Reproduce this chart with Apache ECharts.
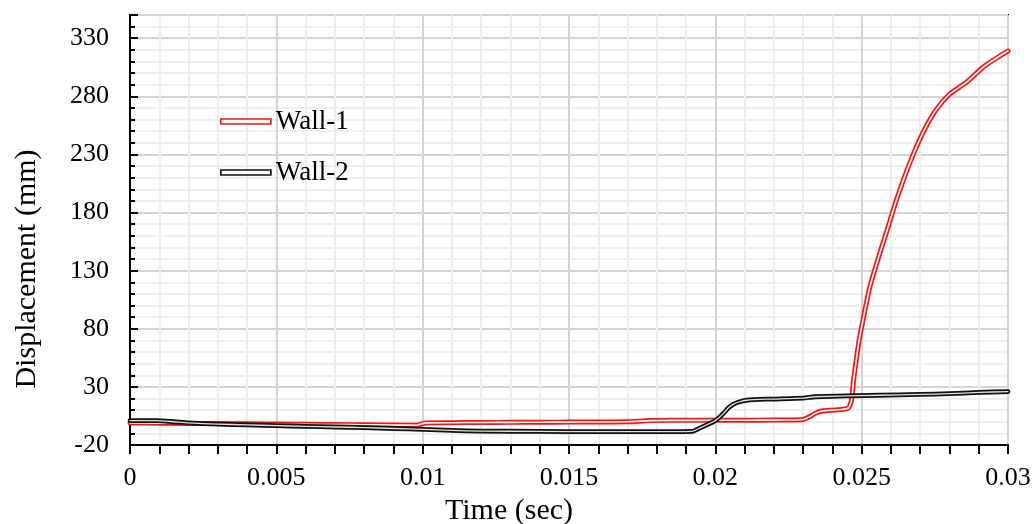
<!DOCTYPE html>
<html>
<head>
<meta charset="utf-8">
<script src="https://cdn.jsdelivr.net/npm/echarts@6/dist/echarts.min.js"></script>
<style>
html,body{margin:0;padding:0;background:#fff;}
#chart{width:1035px;height:524px;}
</style>
</head>
<body>
<div id="chart"></div>
<script>
// Wall-1 (red) : time in seconds, displacement in mm
var wall1Time = [0, 0.001, 0.002, 0.003, 0.004, 0.005, 0.006, 0.007, 0.008, 0.009, 0.0098, 0.0101, 0.011, 0.012, 0.013, 0.014, 0.015, 0.016, 0.017, 0.0178, 0.0185, 0.0195, 0.0205, 0.0215, 0.0225, 0.0230, 0.0232, 0.0234, 0.0236, 0.0240, 0.0243, 0.02455, 0.02465, 0.02472, 0.0248, 0.0249, 0.02505, 0.02528, 0.02562, 0.02591, 0.02619, 0.02665, 0.0271, 0.02756, 0.02801, 0.02858, 0.02915, 0.02961, 0.0300];
var wall1Disp = [-1, -1.2, -1.4, -1.6, -1.8, -2, -2.2, -2.4, -2.6, -2.8, -3, -1, -0.8, -0.6, -0.5, -0.4, -0.3, -0.2, 0, 1, 1.2, 1.2, 1.3, 1.4, 1.5, 2, 4, 7, 9, 10, 10.5, 12, 18, 35, 50, 68, 88, 116, 145, 168, 191, 223, 249, 269, 282, 292, 305, 313, 319];
// Wall-2 (black)
var wall2Time = [0, 0.0009, 0.0015, 0.002, 0.003, 0.004, 0.005, 0.006, 0.007, 0.008, 0.009, 0.010, 0.011, 0.012, 0.014, 0.016, 0.018, 0.0192, 0.0195, 0.01993, 0.0201, 0.02027, 0.02045, 0.02061, 0.0208, 0.02107, 0.02175, 0.0230, 0.0234, 0.0256, 0.027, 0.028, 0.029, 0.030];
var wall2Disp = [1, 1, 0, -1, -2, -2.7, -3.3, -4, -4.5, -5, -5.8, -6.5, -7.5, -8, -8.3, -8.5, -8.5, -8.3, -5, 0, 3, 7, 12, 15, 17, 18.5, 19.4, 20.3, 21.5, 22.8, 23.5, 24.2, 25.2, 26];
// axis ticks
var xTicks = [0, 0.005, 0.01, 0.015, 0.02, 0.025, 0.03];
var yTicks = [-20, 30, 80, 130, 180, 230, 280, 330];
var seriesNames = ['Wall-1', 'Wall-2'];

function pairs(t, v) { return t.map(function (x, i) { return [x, v[i]]; }); }

var FONT = 'Liberation Serif, Times New Roman, serif';
var chart = echarts.init(document.getElementById('chart'), null, {renderer: 'canvas'});

function lineSeries(name, data, color, width, z) {
  return {
    name: name, type: 'line', data: data, showSymbol: false, symbol: 'none',
    smooth: 0.2, z: z, silent: true,
    lineStyle: {color: color, width: width, cap: 'round', join: 'round'},
    itemStyle: {color: color}
  };
}

var d1 = pairs(wall1Time, wall1Disp);
var d2 = pairs(wall2Time, wall2Disp);

chart.setOption({
  animation: false,
  backgroundColor: '#fff',
  grid: {left: 130, top: 15, width: 878, height: 430, show: true, borderColor: '#000', borderWidth: 2,
    backgroundColor: 'transparent', containLabel: false, outerBoundsMode: 'none'},
  legend: {
    left: 220, top: 108, orient: 'vertical', itemGap: 24, padding: 0,
    itemWidth: 50, itemHeight: 5,
    textStyle: {fontFamily: FONT, fontSize: 27, color: '#000', lineHeight: 27},
    data: [
      {name: seriesNames[0], icon: 'rect', itemStyle: {color: '#fff', borderColor: '#ff1010', borderWidth: 1.7}},
      {name: seriesNames[1], icon: 'rect', itemStyle: {color: '#fff', borderColor: '#111', borderWidth: 1.7}}
    ]
  },
  xAxis: {
    type: 'value', min: xTicks[0], max: xTicks[xTicks.length - 1], interval: xTicks[1] - xTicks[0],
    name: 'Time (sec)', nameLocation: 'middle', nameGap: 47,
    nameTextStyle: {fontFamily: FONT, fontSize: 30, color: '#000', padding: [0, 120, 0, 0]},
    axisLine: {show: true, onZero: false, lineStyle: {color: '#000', width: 2}},
    axisTick: {show: true, inside: false, length: 9, lineStyle: {color: '#000', width: 2}},
    minorTick: {show: true, splitNumber: 5, length: 9, lineStyle: {color: '#000', width: 2}},
    axisLabel: {fontFamily: FONT, fontSize: 26, color: '#000', margin: 20,
      formatter: function (v) { return String(+v.toFixed(3)); }},
    splitLine: {show: true, lineStyle: {color: '#d4d4d4', width: 2}},
    minorSplitLine: {show: true, lineStyle: {color: '#eeeeee', width: 2}}
  },
  yAxis: {
    type: 'value', min: yTicks[0], max: 350, interval: yTicks[1] - yTicks[0],
    name: 'Displacement (mm)', nameLocation: 'middle', nameGap: 88,
    nameTextStyle: {fontFamily: FONT, fontSize: 30, color: '#000', padding: [0, 78, 0, 0]},
    axisLine: {show: true, onZero: false, lineStyle: {color: '#000', width: 2}},
    axisTick: {show: true, inside: true, length: 8, lineStyle: {color: '#000', width: 2}},
    minorTick: {show: true, splitNumber: 5, length: 5, lineStyle: {color: '#000', width: 2}},
    axisLabel: {fontFamily: FONT, fontSize: 26, color: '#000', margin: 21, showMaxLabel: false},
    splitLine: {show: true, lineStyle: {color: '#d4d4d4', width: 2}},
    minorSplitLine: {show: true, lineStyle: {color: '#eeeeee', width: 2}}
  },
  series: [
    lineSeries(seriesNames[0], d1, '#ff1010', 5, 3),
    lineSeries('w1inner', d1, '#ffffff', 1.6, 4),
    lineSeries(seriesNames[1], d2, '#111111', 4.8, 5),
    lineSeries('w2inner', d2, '#e0e0e0', 1.3, 6)
  ]
});
</script>
</body>
</html>
